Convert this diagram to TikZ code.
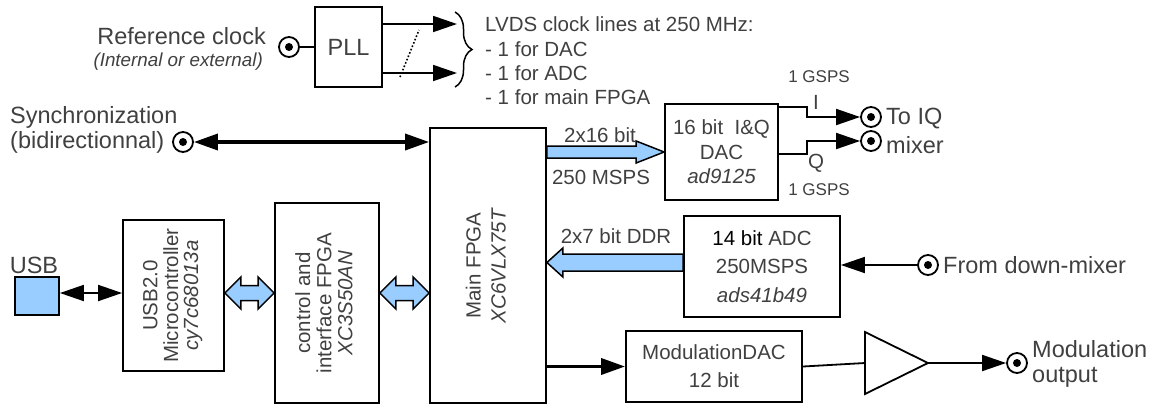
\documentclass[tikz,border=0pt]{standalone}
\usepackage{fontspec}
\setmainfont{Liberation Sans}
\usetikzlibrary{arrows.meta,calc,decorations.pathreplacing}
\definecolor{txtgray}{RGB}{64,64,64}
\definecolor{busblue}{RGB}{153,204,255}
\newcommand{\vtext}[1]{\rotatebox{90}{\begin{tabular}{@{}c@{}}#1\end{tabular}}}
\newcommand{\dblfat}[2]{%
  \filldraw[fat] (#1) -- ($(#1)+(16,-16)$) -- ($(#1)+(16,-7.5)$) -- ($(#2)+(-16,-7.5)$)
    -- ($(#2)+(-16,-16)$) -- (#2) -- ($(#2)+(-16,16)$) -- ($(#2)+(-16,7.5)$)
    -- ($(#1)+(16,7.5)$) -- ($(#1)+(16,16)$) -- cycle;}
\tikzset{
  tip/.tip={Triangle[length=24pt,width=16pt]},
  box/.style={draw, line width=1.8pt, inner sep=0pt, align=center},
  conn/.style={circle, draw, line width=1.8pt, minimum size=20pt, inner sep=0pt,
    path picture={\fill (path picture bounding box.center) circle (4pt);}},
  sig/.style={line width=1.8pt, -tip},
  thickarrow/.style={line width=3.5pt, -tip},
  fat/.style={fill=busblue, draw=black, line width=1.5pt, line join=miter},
  big/.style={inner sep=0pt, font=\fontsize{23.5}{25}\selectfont},
  mid/.style={inner sep=0pt, font=\fontsize{20.5}{24.3}\selectfont},
  small/.style={inner sep=0pt, font=\fontsize{17}{19}\selectfont}
}
\begin{document}
\begin{tikzpicture}[x=1pt, y=-1pt, every node/.append style={text=txtgray}]
  \useasboundingbox (0,0) rectangle (1158,408);

  % clock distribution
  \node[box, big, minimum width=67pt, minimum height=80pt] (pll) at (348.5,47) {PLL};
  \node[conn] (refc) at (289,47) {};
  \node[big, anchor=east] (reftxt) at (266,36) {Reference clock};
  \node[anchor=east, inner sep=0pt, font=\fontsize{18.8}{20}\selectfont\itshape] (refsub) at (263,62) {(Internal or external)};
  \draw[line width=1.8pt] (refc) -- (pll.west |- refc);
  \coordinate (lvdsa) at (457,24);
  \coordinate (lvdsb) at (457,73);
  \draw[sig] (pll.east |- lvdsa) -- (lvdsa);
  \draw[sig] (pll.east |- lvdsb) -- (lvdsb);
  \draw[line width=1.6pt, dash pattern=on 1.6pt off 2pt] (400,77) -- (419,30);
  \draw[line width=1.5pt, decorate, decoration={brace, amplitude=17pt}] (455,12) -- (455,87);
  \node[mid, anchor=west, align=left] (lvdstxt) at (485,61) {LVDS clock lines at 250 MHz:\\- 1 for DAC\\- 1 for ADC\\- 1 for main FPGA};

  % main FPGA and I/Q DAC
  \node[box, minimum width=116pt, minimum height=275pt, font=\fontsize{20.5}{25}\selectfont] (fpga) at (488,265.5) {\vtext{Main FPGA\\\textit{XC6VLX75T}}};
  \node[box, minimum width=113pt, minimum height=96pt, font=\fontsize{20.5}{24.5}\selectfont] (dac) at (721.5,152) {16 bit~~I\&Q\\DAC\\\textit{ad9125}};
  \coordinate (dacbus) at (fpga.east |- dac.west);
  \filldraw[fat] ($(dacbus)+(0,-6)$) -- ($(dac.west)+(-28,-6)$) -- ($(dac.west)+(-28,-11)$) -- (dac.west)
    -- ($(dac.west)+(-28,11)$) -- ($(dac.west)+(-28,6)$) -- ($(dacbus)+(0,6)$) -- cycle;
  \node[mid] (daclaba) at (600,135) {2x16 bit};
  \node[mid] (daclabb) at (601,177) {250 MSPS};
  \node[conn] (iqi) at (871,117) {};
  \node[conn] (iqq) at (871,141) {};
  \draw[sig] ($(dac.north east)+(0,4)$) -- ++(28,0) |- (iqi);
  \draw[sig] ($(dac.south east)+(0,-47)$) -- ++(28,0) |- (iqq);
  \node[small] (gspsi) at (819,77) {1 GSPS};
  \node[mid] (ilab) at (816,102) {I};
  \node[mid] (qlab) at (816,163) {Q};
  \node[small] (gspsq) at (819,190) {1 GSPS};
  \node[big, anchor=west, align=left, font=\fontsize{23.5}{29}\selectfont] (iqtxt) at (886,131) {To IQ\\mixer};

  % sync
  \node[conn] (syncc) at (183,142) {};
  \node[big, anchor=west, align=left] (synctxt) at (10,130) {Synchronization\\(bidirectionnal)};
  \draw[line width=3.5pt, tip-tip] (syncc) -- (syncc -| fpga.west);

  % ADC
  \node[box, minimum width=156pt, minimum height=101pt, font=\fontsize{20.5}{28.5}\selectfont] (adc) at (762,266.5) {{\color{black}14 bit} ADC\\250MSPS\\\textit{ads41b49}};
  \coordinate (adcbus) at ($(adc.west)+(0,-4)$);
  \coordinate (adctip) at (fpga.east |- adcbus);
  \filldraw[fat] ($(adcbus)+(0,-8.5)$) -- ($(adctip)+(16,-8.5)$) -- ($(adctip)+(16,-14.5)$) -- (adctip)
    -- ($(adctip)+(16,14.5)$) -- ($(adctip)+(16,8.5)$) -- ($(adcbus)+(0,8.5)$) -- cycle;
  \node[mid] (adclab) at (616,236) {2x7 bit DDR};
  \node[conn] (dmx) at (928,265) {};
  \draw[sig] (dmx) -- (dmx -| adc.east);
  \node[big, anchor=west] (dmxtxt) at (943,265) {From down-mixer};

  % modulation output
  \node[box, minimum width=176pt, minimum height=71pt, font=\fontsize{20.5}{28}\selectfont] (mdac) at (714,366.5) {ModulationDAC\\12 bit};
  \draw[thickarrow] (fpga.east |- mdac.west) -- (mdac.west);
  \coordinate (ampin) at (865,363);
  \coordinate (ampout) at (928,363);
  \draw[line width=1.8pt] (865,332) -- (ampout) -- (865,394) -- cycle;
  \draw[line width=1.8pt] (mdac.east) -- (ampin);
  \node[conn] (modc) at (1017,363) {};
  \draw[sig] (ampout) -- (modc);
  \node[big, anchor=west, align=left] (modtxt) at (1032,364) {Modulation\\output};

  % USB side
  \node[draw, line width=1.8pt, fill=busblue, minimum width=44pt, minimum height=38pt] (usb) at (37,296) {};
  \node[big] (usbtxt) at (34,265) {USB};
  \node[box, minimum width=101pt, minimum height=151pt, font=\fontsize{20.5}{19.5}\selectfont] (uc) at (173.5,295.5) {\vtext{USB2.0\\Microcontroller\\\textit{cy7c68013a}}};
  \node[box, minimum width=104pt, minimum height=200pt, font=\fontsize{20.5}{21}\selectfont] (cf) at (327,303) {\vtext{control and\\interface FPGA\\\textit{XC3S50AN}}};
  \coordinate (bus) at (0,293);
  \draw[line width=1.8pt, tip-tip] (usb.east |- bus) -- (uc.west |- bus);
  \coordinate (ucout) at (uc.east |- bus);
  \coordinate (cfin) at (cf.west |- bus);
  \coordinate (cfout) at (cf.east |- bus);
  \coordinate (fpgain) at (fpga.west |- bus);
  \dblfat{ucout}{cfin}
  \dblfat{cfout}{fpgain}
\end{tikzpicture}
\end{document}
